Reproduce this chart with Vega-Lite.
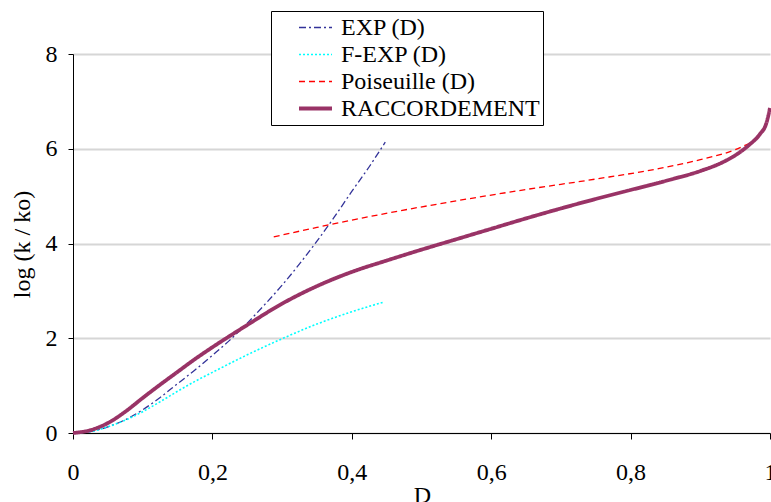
{
  "$schema": "https://vega.github.io/schema/vega-lite/v6.json",
  "width": 697,
  "height": 379,
  "autosize": {"type": "none"},
  "padding": {"left": 73, "top": 54, "right": 1, "bottom": 69},
  "background": "white",
  "config": {"view": {"stroke": null}, "font": "'Liberation Serif', 'DejaVu Serif', serif"},
  "data": {
    "values": [
      {"s": "EXP (D)", "D": 0, "v": 0},
      {"s": "EXP (D)", "D": 0.025, "v": 0.03},
      {"s": "EXP (D)", "D": 0.05, "v": 0.13},
      {"s": "EXP (D)", "D": 0.075, "v": 0.28},
      {"s": "EXP (D)", "D": 0.1, "v": 0.49},
      {"s": "EXP (D)", "D": 0.125, "v": 0.75},
      {"s": "EXP (D)", "D": 0.15, "v": 1.04},
      {"s": "EXP (D)", "D": 0.175, "v": 1.33},
      {"s": "EXP (D)", "D": 0.2, "v": 1.64},
      {"s": "EXP (D)", "D": 0.225, "v": 1.96},
      {"s": "EXP (D)", "D": 0.25, "v": 2.32},
      {"s": "EXP (D)", "D": 0.275, "v": 2.71},
      {"s": "EXP (D)", "D": 0.3, "v": 3.12},
      {"s": "EXP (D)", "D": 0.325, "v": 3.57},
      {"s": "EXP (D)", "D": 0.35, "v": 4.05},
      {"s": "EXP (D)", "D": 0.375, "v": 4.56},
      {"s": "EXP (D)", "D": 0.4, "v": 5.1},
      {"s": "EXP (D)", "D": 0.425, "v": 5.62},
      {"s": "EXP (D)", "D": 0.448, "v": 6.14},
      {"s": "F-EXP (D)", "D": 0, "v": 0},
      {"s": "F-EXP (D)", "D": 0.025, "v": 0.03},
      {"s": "F-EXP (D)", "D": 0.05, "v": 0.13},
      {"s": "F-EXP (D)", "D": 0.075, "v": 0.27},
      {"s": "F-EXP (D)", "D": 0.1, "v": 0.45},
      {"s": "F-EXP (D)", "D": 0.125, "v": 0.66},
      {"s": "F-EXP (D)", "D": 0.15, "v": 0.88},
      {"s": "F-EXP (D)", "D": 0.175, "v": 1.09},
      {"s": "F-EXP (D)", "D": 0.2, "v": 1.28},
      {"s": "F-EXP (D)", "D": 0.25, "v": 1.65},
      {"s": "F-EXP (D)", "D": 0.3, "v": 1.99},
      {"s": "F-EXP (D)", "D": 0.35, "v": 2.3},
      {"s": "F-EXP (D)", "D": 0.4, "v": 2.56},
      {"s": "F-EXP (D)", "D": 0.445, "v": 2.76},
      {"s": "Poiseuille (D)", "D": 0.288, "v": 4.14},
      {"s": "Poiseuille (D)", "D": 0.35, "v": 4.34},
      {"s": "Poiseuille (D)", "D": 0.44, "v": 4.61},
      {"s": "Poiseuille (D)", "D": 0.55, "v": 4.9},
      {"s": "Poiseuille (D)", "D": 0.65, "v": 5.14},
      {"s": "Poiseuille (D)", "D": 0.75, "v": 5.36},
      {"s": "Poiseuille (D)", "D": 0.84, "v": 5.58},
      {"s": "Poiseuille (D)", "D": 0.9, "v": 5.77},
      {"s": "Poiseuille (D)", "D": 0.95, "v": 5.98},
      {"s": "Poiseuille (D)", "D": 0.978, "v": 6.17},
      {"s": "RACCORDEMENT", "D": 0, "v": 0},
      {"s": "RACCORDEMENT", "D": 0.025, "v": 0.06},
      {"s": "RACCORDEMENT", "D": 0.05, "v": 0.21},
      {"s": "RACCORDEMENT", "D": 0.075, "v": 0.45},
      {"s": "RACCORDEMENT", "D": 0.1, "v": 0.74},
      {"s": "RACCORDEMENT", "D": 0.125, "v": 1.02},
      {"s": "RACCORDEMENT", "D": 0.15, "v": 1.29},
      {"s": "RACCORDEMENT", "D": 0.175, "v": 1.56},
      {"s": "RACCORDEMENT", "D": 0.2, "v": 1.81},
      {"s": "RACCORDEMENT", "D": 0.25, "v": 2.28},
      {"s": "RACCORDEMENT", "D": 0.3, "v": 2.73},
      {"s": "RACCORDEMENT", "D": 0.35, "v": 3.1},
      {"s": "RACCORDEMENT", "D": 0.4, "v": 3.4},
      {"s": "RACCORDEMENT", "D": 0.45, "v": 3.64},
      {"s": "RACCORDEMENT", "D": 0.5, "v": 3.87},
      {"s": "RACCORDEMENT", "D": 0.55, "v": 4.09},
      {"s": "RACCORDEMENT", "D": 0.6, "v": 4.31},
      {"s": "RACCORDEMENT", "D": 0.65, "v": 4.53},
      {"s": "RACCORDEMENT", "D": 0.7, "v": 4.74},
      {"s": "RACCORDEMENT", "D": 0.75, "v": 4.94},
      {"s": "RACCORDEMENT", "D": 0.8, "v": 5.13},
      {"s": "RACCORDEMENT", "D": 0.85, "v": 5.32},
      {"s": "RACCORDEMENT", "D": 0.9, "v": 5.53},
      {"s": "RACCORDEMENT", "D": 0.93, "v": 5.7},
      {"s": "RACCORDEMENT", "D": 0.95, "v": 5.86},
      {"s": "RACCORDEMENT", "D": 0.97, "v": 6.08},
      {"s": "RACCORDEMENT", "D": 0.985, "v": 6.3},
      {"s": "RACCORDEMENT", "D": 0.995, "v": 6.55},
      {"s": "RACCORDEMENT", "D": 1.0, "v": 6.86}
    ]
  },
  "mark": {"type": "line", "interpolate": "monotone", "clip": false},
  "encoding": {
    "x": {
      "field": "D",
      "type": "quantitative",
      "scale": {"domain": [0, 1], "nice": false, "zero": false},
      "axis": {
        "values": [0, 0.2, 0.4, 0.6, 0.8, 1],
        "labelExpr": "replace(format(datum.value, '~g'), '.', ',')",
        "grid": false,
        "domainColor": "black",
        "domainWidth": 1,
        "tickColor": "black",
        "tickSize": 6,
        "labelPadding": 21,
        "labelFont": "'Liberation Serif', 'DejaVu Serif', serif",
        "labelFontSize": 24,
        "labelColor": "black",
        "labelFlush": false,
        "labelOverlap": false,
        "title": "D",
        "titleFont": "'Liberation Serif', 'DejaVu Serif', serif",
        "titleFontSize": 24,
        "titleFontWeight": "normal",
        "titleColor": "black",
        "titleX": 349,
        "titleY": 69,
        "titleBaseline": "alphabetic"
      }
    },
    "y": {
      "field": "v",
      "type": "quantitative",
      "scale": {"domain": [0, 8], "nice": false},
      "axis": {
        "values": [0, 2, 4, 6, 8],
        "grid": true,
        "gridColor": "#d6d6d6",
        "gridWidth": 2,
        "domainColor": "black",
        "domainWidth": 1,
        "tickColor": "black",
        "tickSize": 5,
        "labelPadding": 11,
        "labelFont": "'Liberation Serif', 'DejaVu Serif', serif",
        "labelFontSize": 24,
        "labelColor": "black",
        "labelFlush": false,
        "labelOverlap": false,
        "title": "log (k / ko)",
        "titleFont": "'Liberation Serif', 'DejaVu Serif', serif",
        "titleFontSize": 24,
        "titleFontWeight": "normal",
        "titleColor": "black",
        "titleX": -44,
        "titleY": 190,
        "titleAngle": -90,
        "titleAlign": "center",
        "titleBaseline": "alphabetic"
      }
    },
    "color": {
      "field": "s",
      "type": "nominal",
      "scale": {
        "domain": ["EXP (D)", "F-EXP (D)", "Poiseuille (D)", "RACCORDEMENT"],
        "range": ["#333399", "#00FFFF", "#FF0000", "#993366"]
      },
      "legend": {
        "title": null,
        "orient": "none",
        "legendX": 198,
        "legendY": -43,
        "symbolType": "stroke",
        "symbolSize": 1089,
        "labelFont": "'Liberation Serif', 'DejaVu Serif', serif",
        "labelFontSize": 24,
        "labelColor": "black",
        "labelLimit": 400,
        "strokeColor": "black",
        "fillColor": "white",
        "padding": 3,
        "rowPadding": 0,
        "clipHeight": 27,
        "symbolOffset": 23,
        "labelOffset": 7
      }
    },
    "strokeDash": {
      "field": "s",
      "type": "nominal",
      "scale": {
        "domain": ["EXP (D)", "F-EXP (D)", "Poiseuille (D)", "RACCORDEMENT"],
        "range": [[7, 3, 2, 3], [2, 2], [6, 4], [1, 0]]
      }
    },
    "strokeWidth": {
      "field": "s",
      "type": "nominal",
      "scale": {
        "type": "ordinal",
        "domain": ["EXP (D)", "F-EXP (D)", "Poiseuille (D)", "RACCORDEMENT"],
        "range": [1.3, 1.6, 1.3, 3.8]
      }
    }
  }
}
